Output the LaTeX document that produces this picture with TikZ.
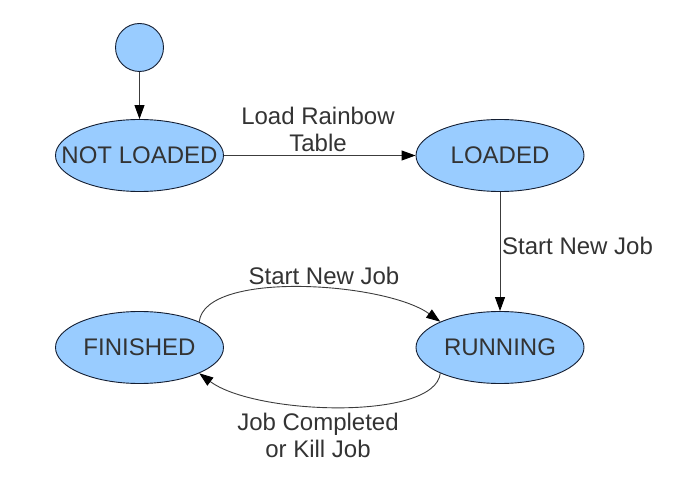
\documentclass[tikz,border=0pt]{standalone}
\usepackage{fontspec}
\setmainfont{Liberation Sans}
\usetikzlibrary{shapes.geometric,arrows.meta}
\definecolor{statefill}{RGB}{153,204,255}
\definecolor{stateline}{RGB}{20,30,50}
\definecolor{txt}{RGB}{51,51,51}
\definecolor{conn}{RGB}{60,60,60}
\begin{document}
\begin{tikzpicture}[x=1pt,y=-1pt,
  every node/.style={font=\fontsize{24}{27}\selectfont, text=txt},
  statebox/.style={ellipse, draw=stateline, line width=0.9pt, fill=statefill,
    minimum width=168pt, minimum height=72pt, inner sep=0pt},
  startdot/.style={circle, draw=stateline, line width=0.9pt, fill=statefill,
    minimum size=48pt, inner sep=0pt},
  conn/.style={draw=conn, line width=0.9pt,
    -{Triangle[length=14pt,width=10pt,fill=black,color=black]}},
  lbl/.style={align=center, inner sep=0pt}
]
\useasboundingbox (0,0) rectangle (688,494);

\node[startdot] (s) at (139.5,47.5) {};
\node[statebox] (nl) at (139.5,155.5) {\makebox[0pt]{NOT LOADED}};
\node[statebox] (ld) at (500,155.5) {\makebox[0pt]{LOADED}};
\node[statebox] (rn) at (500,347.5) {\makebox[0pt]{RUNNING}};
\node[statebox] (fn) at (139.5,347.5) {\makebox[0pt]{FINISHED}};

\draw[conn] (s) -- (nl);
\draw[conn] (nl) -- (ld);
\draw[conn] (ld) -- (rn);
\draw[conn] (fn.north east) .. controls (205,270) and (385,282) .. (rn.north west);
\draw[conn] (rn.south west) .. controls (435,421) and (255,415) .. (fn.south east);

\node[lbl] (l1) at (318,129) {Load Rainbow\\Table};
\node[lbl, anchor=west] (l2) at (502,246) {Start New Job};
\node[lbl] (l3) at (324,276) {Start New Job};
\node[lbl] (l4) at (318,435) {Job Completed\\or Kill Job};
\end{tikzpicture}
\end{document}
